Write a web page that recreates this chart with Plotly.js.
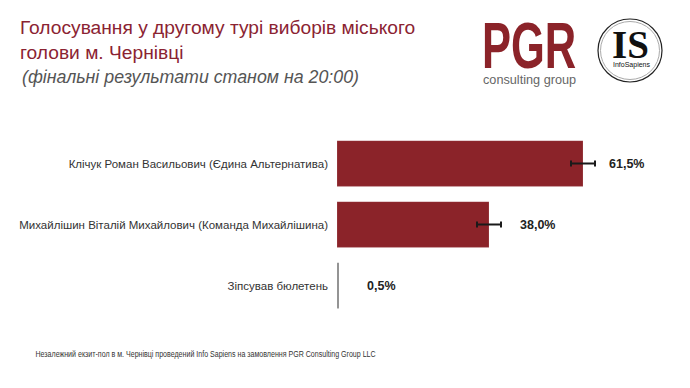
<!DOCTYPE html>
<html><head><meta charset="utf-8">
<script src="https://cdn.plot.ly/plotly-3.0.1.min.js"></script>
<style>html,body{margin:0;padding:0;background:#fff}#c{width:690px;height:388px}</style>
</head><body><div id="c"></div>
<script>
const categories = ['Клічук Роман Васильович (Єдина Альтернатива)', 'Михайлішин Віталій Михайлович (Команда Михайлішина)', 'Зіпсував бюлетень'];
const values = [61.5, 38.0, 0.5];
const errors = [3, 3, NaN];
const valueLabels = ['61,5%', '38,0%', '0,5%'];
const barColors = ['#8b2329', '#8b2329', '#8c8c8c'];
const labelShift = [24, 29, 26];

const W = 690, H = 388;
const L = 337, R = 33, T = 133, B = 72;
const pw = W - L - R, ph = H - T - B;
const px = v => (v - L) / pw;
const py = v => (H - B - v) / ph;
const FONT = 'Liberation Sans, Arial, sans-serif';

const annotations = values.map((v, i) => ({
  x: v, y: categories[i], xref: 'x', yref: 'y', text: valueLabels[i],
  showarrow: false, xanchor: 'left', xshift: labelShift[i],
  font: {family: FONT, size: 12.5, color: '#222', weight: 'bold'}
}));

const condense = {};
function addNote(a, sx) {
  annotations.push(a);
  if (sx) condense[annotations.length - 1] = sx;
}
addNote({xref: 'paper', yref: 'paper', x: px(20), y: py(77), xanchor: 'left', yanchor: 'middle', showarrow: false,
   text: '<i>(фінальні результати станом на 20:00)</i>',
   font: {family: FONT, size: 17.8, color: '#555'}});
addNote({xref: 'paper', yref: 'paper', x: px(480), y: py(46), xanchor: 'left', yanchor: 'middle', showarrow: false,
   text: '<b>PGR</b>', font: {family: FONT, size: 64, color: '#8b2329'}}, 0.68);
addNote({xref: 'paper', yref: 'paper', x: px(481), y: py(80), xanchor: 'left', yanchor: 'middle', showarrow: false,
   text: 'consulting group', font: {family: FONT, size: 12.7, color: '#666'}});
addNote({xref: 'paper', yref: 'paper', x: px(630), y: py(45), xanchor: 'center', yanchor: 'middle', showarrow: false,
   text: '<b>IS</b>', font: {family: 'Liberation Serif, Times New Roman, serif', size: 39, color: '#111'}});
addNote({xref: 'paper', yref: 'paper', x: px(631), y: py(65), xanchor: 'center', yanchor: 'middle', showarrow: false,
   text: 'InfoSapiens', font: {family: FONT, size: 7, color: '#111'}});
addNote({xref: 'paper', yref: 'paper', x: px(33), y: py(353), xanchor: 'left', yanchor: 'middle', showarrow: false,
   text: 'Незалежний екзит-пол в м. Чернівці проведений Info Sapiens на замовлення PGR Consulting Group LLC',
   font: {family: FONT, size: 9.5, color: '#333'}}, 0.745);

const shapes = [
  {type: 'circle', xref: 'paper', yref: 'paper', x0: px(598), x1: px(662), y0: py(82), y1: py(19), line: {color: '#222', width: 1.2}},
  {type: 'circle', xref: 'paper', yref: 'paper', x0: px(600.5), x1: px(659.5), y0: py(79.5), y1: py(21.5), line: {color: '#aaa', width: 1}}
];

const trace = {
  type: 'bar', orientation: 'h', y: categories, x: values,
  marker: {color: barColors, line: {color: 'rgba(255,255,255,0.3)', width: 0.5}},
  width: 0.75,
  error_x: {type: 'data', array: errors, visible: true, color: '#1a1a1a', thickness: 2, width: 3},
  hoverinfo: 'none'
};

const layout = {
  width: W, height: H,
  margin: {l: L, r: R, t: T, b: B},
  paper_bgcolor: '#fff', plot_bgcolor: '#fff',
  showlegend: false,
  title: {
    text: 'Голосування у другому турі виборів міського<br>голови м. Чернівці',
    xref: 'container', yref: 'container', x: 20 / W, xanchor: 'left', y: 1 - 34 / H, yanchor: 'top',
    font: {family: FONT, size: 19.2, color: '#8b2332'}
  },
  xaxis: {range: [0, 80], visible: false, fixedrange: true},
  yaxis: {autorange: 'reversed', showgrid: false, zeroline: false, showline: false, ticks: '',
          ticklabelstandoff: 8,
          tickfont: {family: FONT, size: 11.5, color: '#333'}},
  annotations: annotations,
  shapes: shapes
};

Plotly.newPlot('c', [trace], layout, {displayModeBar: false, staticPlot: true}).then(gd => {
  const groups = gd.querySelectorAll('.annotation');
  groups.forEach(g => {
    const idx = +g.getAttribute('data-index');
    if (condense[idx]) {
      const t = g.querySelector('text');
      if (t) {
        t.style.transformBox = 'fill-box';
        t.style.transformOrigin = 'left center';
        t.style.transform = 'scaleX(' + condense[idx] + ')';
      }
    }
  });
});
</script>
</body></html>
